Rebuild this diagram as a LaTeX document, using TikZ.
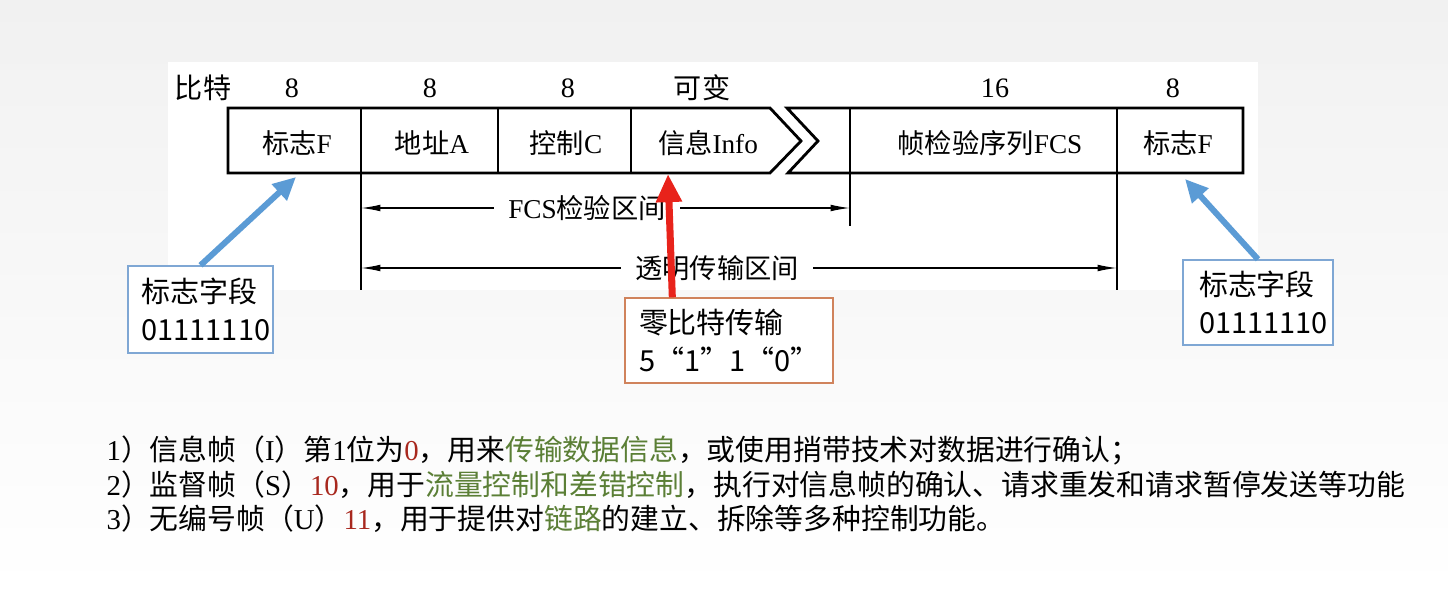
\documentclass[tikz,border=0pt]{standalone}
\usepackage{fontspec}
\setmainfont{Liberation Serif}
\newfontfamily\cjk{Noto Sans CJK SC}
\usetikzlibrary{arrows.meta, calc}
\definecolor{cblue}{HTML}{5B9BD5}
\definecolor{cboxblue}{HTML}{7FA7D4}
\definecolor{cred}{HTML}{E8231B}
\definecolor{corange}{HTML}{D0835C}
\definecolor{cnum}{HTML}{A8281E}
\definecolor{cgreen}{HTML}{5B7F36}
\definecolor{cbg}{HTML}{F1F1F1}
\tikzset{
  every picture/.style={line width=0.8pt},
  field/.style={font=\fontsize{15.5}{17}\selectfont, inner sep=0pt},
  bits/.style={font=\fontsize{16}{18}\selectfont, inner sep=0pt},
  frame/.style={line width=1.6pt, line join=miter},
  divider/.style={line width=0.9pt},
  ext/.style={line width=0.8pt},
  dimlabel/.style={font=\fontsize{15.5}{17}\selectfont, inner xsep=8pt, inner ysep=0pt},
  dimarrow/.style={line width=0.7pt, -{Latex[length=11pt, width=3.8pt]}},
  callout/.style={draw=#1, line width=0.8pt, fill=white, align=left, font=\cjk\fontsize{16.5}{22}\selectfont, inner sep=0pt},
  pointer/.style={draw=#1, line width=3.4pt, -{Triangle[length=13pt, width=12pt]}},
  note/.style={anchor=west, font=\fontsize{16.4}{18}\selectfont, inner sep=0pt},
}

\begin{document}
\begin{tikzpicture}[x=0.02cm, y=-0.02cm]
  \useasboundingbox (0,0) rectangle (1448,591);
  % background and the white panel of the frame figure
  \shade[top color=cbg, bottom color=white] (0,0) rectangle (1448,591);
  \fill[white] (168,62) rectangle (1258,290);

  % bit counts
  \node[bits] (bitlbl) at (203,88) {\cjk 比特};
  \node[bits] (b1) at (292,88) {8};
  \node[bits] (b2) at (430,88) {8};
  \node[bits] (b3) at (568,88) {8};
  \node[bits] (b4) at (702,88) {\cjk 可变};
  \node[bits] (b5) at (995,88) {16};
  \node[bits] (b6) at (1173,88) {8};

  % the frame, broken after the info field
  \draw[frame] (770,108) -- (228,108) -- (228,173) -- (770,173) -- (801,141) -- cycle;
  \draw[frame] (787,108) -- (1243,108) -- (1243,173) -- (788,173) -- (818,141) -- cycle;
  \foreach \x in {361,498,631,850,1117}
    \draw[divider] (\x,108) -- (\x,173);

  \node[field] (flag1) at (297,143) {{\cjk 标志}F};
  \node[field] (addr) at (432,143) {{\cjk 地址}A};
  \node[field] (ctrl) at (566,143) {{\cjk 控制}C};
  \node[field] (info) at (708,143) {{\cjk 信息}Info};
  \node[field] (fcsf) at (990,143) {{\cjk 帧检验序列}FCS};
  \node[field] (flag2) at (1178,143) {{\cjk 标志}F};

  % extension lines and ranges
  \draw[ext] (361,173) -- (361,290);
  \draw[ext] (850,173) -- (850,226);
  \draw[ext] (1117,173) -- (1117,290);

  \coordinate (fcsL) at (361,208);
  \coordinate (fcsR) at (850,208);
  \node[dimlabel] (fcs) at (587,208) {FCS{\cjk 检验区间}};
  \draw[dimarrow] (fcs) -- (fcsL);
  \draw[dimarrow] (fcs) -- (fcsR);

  \coordinate (trL) at (361,268);
  \coordinate (trR) at (1117,268);
  \node[dimlabel] (tr) at (717,268) {\cjk 透明传输区间};
  \draw[dimarrow] (tr) -- (trL);
  \draw[dimarrow] (tr) -- (trR);

  % callouts
  \node[callout=cboxblue, text width=118*0.02cm, minimum width=2.9cm, minimum height=1.74cm] (flagboxL) at (200.5,309.5) {标志字段\\01111110};
  \node[callout=cboxblue, text width=118*0.02cm, minimum width=3.0cm, minimum height=1.7cm] (flagboxR) at (1258,302.5) {标志字段\\01111110};
  \node[callout=corange, text width=180*0.02cm, minimum width=4.16cm, minimum height=1.7cm] (zerobox) at (729,340.5) {零比特传输\\5“1”1“0”};

  \coordinate (tipL) at (296,177);
  \coordinate (tipR) at (1185,179);
  \coordinate (tipZ) at (668,174);
  \coordinate (tailZ) at ($(zerobox.north west)+(48,0)$);
  \draw[pointer=cblue] (flagboxL.north) -- (tipL);
  \draw[pointer=cblue] (flagboxR.north) -- (tipR);
  \draw[pointer=cred, line width=4pt, -{Triangle[length=16pt, width=14pt]}] (tailZ) -- (tipZ);

  % frame types
  \node[note] (line1) at (106,450) {1{\cjk ）信息帧（}I{\cjk ）第}1{\cjk 位为}\textcolor{cnum}{0}{\cjk ，用来\textcolor{cgreen}{传输数据信息}，或使用捎带技术对数据进行确认；}};
  \node[note] (line2) at (106,485) {2{\cjk ）监督帧（}S{\cjk ）}\textcolor{cnum}{10}{\cjk ，用于\textcolor{cgreen}{流量控制和差错控制}，执行对信息帧的确认、请求重发和请求暂停发送等功能}};
  \node[note] (line3) at (106,519) {3{\cjk ）无编号帧（}U{\cjk ）}\textcolor{cnum}{11}{\cjk ，用于提供对\textcolor{cgreen}{链路}的建立、拆除等多种控制功能。}};
\end{tikzpicture}
\end{document}
